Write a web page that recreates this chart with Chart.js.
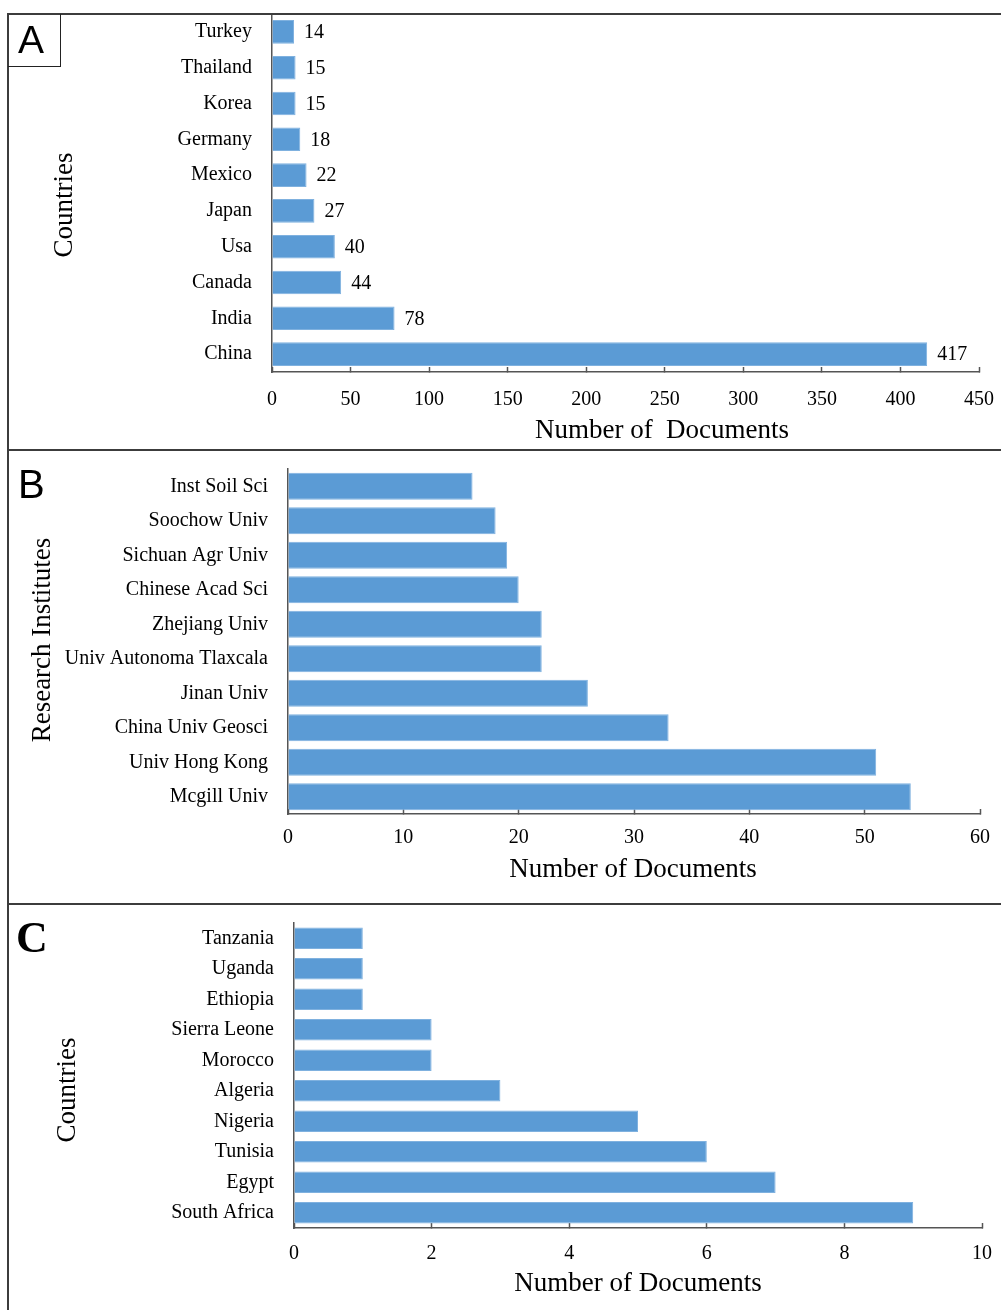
<!DOCTYPE html>
<html>
<head>
<meta charset="utf-8">
<script src="https://cdn.jsdelivr.net/npm/chart.js@4.4.1/dist/chart.umd.min.js"></script>
<style>
  body { margin: 0; background: #fff; }
  #page { position: relative; width: 1001px; height: 1310px; overflow: hidden; background: #fff; }
  canvas { position: absolute; left: 0; }
  .line { position: absolute; background: #3c3c3c; z-index: 5; }
  .letter { position: absolute; z-index: 6; color: #000; line-height: 1; }
</style>
</head>
<body>
<div id="page">
  <canvas id="chartA" width="1001" height="436" style="top:14px"></canvas>
  <canvas id="chartB" width="1001" height="454" style="top:450px"></canvas>
  <canvas id="chartC" width="1001" height="406" style="top:904px"></canvas>

  <!-- frame -->
  <div class="line" style="left:7px; top:13px; width:994px; height:2px"></div>
  <div class="line" style="left:7px; top:13px; width:2px; height:1297px"></div>
  <div class="line" style="left:7px; top:449px; width:994px; height:2px"></div>
  <div class="line" style="left:7px; top:903px; width:994px; height:2px"></div>
  <div style="position:absolute; left:8px; top:14px; width:52px; height:52px; border-right:1px solid #222; border-bottom:1px solid #222; z-index:5"></div>

  <div class="letter" style="left:18px; top:18px; font:39px 'Liberation Sans', Arial, sans-serif">A</div>
  <div class="letter" style="left:18px; top:462px; font:40px 'Liberation Sans', Arial, sans-serif">B</div>
  <div class="letter" style="left:16px; top:912px; font:bold 44px 'Liberation Serif', 'Times New Roman', serif">C</div>
</div>

<script>
//Panel A data
const countriesA = ['Turkey', 'Thailand', 'Korea', 'Germany', 'Mexico', 'Japan', 'Usa', 'Canada', 'India', 'China'];
const docsA = [14, 15, 15, 18, 22, 27, 40, 44, 78, 417];

//Panel B data
const institutesB = ['Inst Soil Sci', 'Soochow Univ', 'Sichuan Agr Univ', 'Chinese Acad Sci', 'Zhejiang Univ',
    'Univ Autonoma Tlaxcala', 'Jinan Univ', 'China Univ Geosci', 'Univ Hong Kong', 'Mcgill Univ'];
const docsB = [16, 18, 19, 20, 22, 22, 26, 33, 51, 54];

//Panel C data
const countriesC = ['Tanzania', 'Uganda', 'Ethiopia', 'Sierra Leone', 'Morocco', 'Algeria', 'Nigeria', 'Tunisia', 'Egypt', 'South Africa'];
const docsC = [1, 1, 1, 2, 2, 3, 5, 6, 7, 9];

const SERIF = "'Liberation Serif', 'Times New Roman', serif";
const BAR_BLUE = '#5B9BD5';
const AXIS_GREY = '#555';

//Draws the axis titles at fixed spots
const axisTitles = {
    id: 'axisTitles',
    afterDraw(chart, args, opts) {
        const ctx = chart.ctx;
        ctx.save();
        ctx.fillStyle = '#000';
        ctx.font = '27px ' + SERIF;
        ctx.textAlign = 'center';
        ctx.textBaseline = 'middle';
        ctx.fillText(opts.xText, opts.xPos[0], opts.xPos[1]);
        ctx.translate(opts.yPos[0], opts.yPos[1]);
        ctx.rotate(-Math.PI / 2);
        ctx.fillText(opts.yText, 0, 0);
        ctx.restore();
    }
};

//Value labels at the end of each bar
const valueLabels = {
    id: 'valueLabels',
    afterDatasetsDraw(chart, args, opts) {
        if (!opts.display) return;
        const ctx = chart.ctx;
        const meta = chart.getDatasetMeta(0);
        ctx.save();
        ctx.fillStyle = '#000';
        ctx.font = '20px ' + SERIF;
        ctx.textAlign = 'left';
        ctx.textBaseline = 'middle';
        meta.data.forEach((bar, i) => {
            ctx.fillText(chart.data.datasets[0].data[i], bar.x + 10, bar.y + 1);
        });
        ctx.restore();
    }
};

function makeChart(id, labels, values, s) {
    const ctx = document.getElementById(id).getContext('2d');
    return new Chart(ctx, {
        type: 'bar',
        data: {
            labels: labels,
            datasets: [{
                data: values,
                backgroundColor: BAR_BLUE,
                borderColor: '#7FB1DF',
                borderWidth: 1,
                barPercentage: s.barPct,
                categoryPercentage: 1
            }]
        },
        plugins: [axisTitles, valueLabels],
        options: {
            indexAxis: 'y',
            responsive: false,
            animation: false,
            layout: { padding: { left: 0, top: s.top, right: s.right, bottom: 0 } },
            plugins: {
                legend: { display: false },
                tooltip: { enabled: false },
                axisTitles: s.titles,
                valueLabels: { display: s.values }
            },
            scales: {
                x: {
                    min: 0,
                    max: s.max,
                    ticks: {
                        stepSize: s.step,
                        padding: s.xPad,
                        color: '#000',
                        font: { family: SERIF, size: 20 }
                    },
                    grid: {
                        display: true,
                        drawOnChartArea: false,
                        drawTicks: true,
                        tickLength: -5,
                        tickColor: AXIS_GREY,
                        tickWidth: 1.5
                    },
                    border: { display: true, color: AXIS_GREY, width: 1.5 },
                    afterFit(scale) {
                        scale.height = s.xHeight;
                        scale.paddingLeft = 0;
                        scale.paddingRight = 0;
                    }
                },
                y: {
                    ticks: {
                        padding: 20,
                        color: '#000',
                        font: { family: SERIF, size: 20 }
                    },
                    grid: { display: false, drawTicks: false },
                    border: { display: true, color: AXIS_GREY, width: 1.5 },
                    afterFit(scale) {
                        scale.width = s.axisX;
                        scale.paddingTop = 0;
                        scale.paddingBottom = 0;
                    }
                }
            }
        }
    });
}

makeChart('chartA', countriesA, docsA, {
    barPct: 0.66, top: 0, right: 22, xHeight: 78, axisX: 272, max: 450, step: 50, xPad: 21, values: true,
    titles: { xText: 'Number of  Documents', xPos: [662, 417], yText: 'Countries', yPos: [65, 191] }
});

makeChart('chartB', institutesB, docsB, {
    barPct: 0.78, top: 19, right: 21, xHeight: 90, axisX: 288, max: 60, step: 10, xPad: 17, values: false,
    titles: { xText: 'Number of Documents', xPos: [633, 420], yText: 'Research Institutes', yPos: [43, 190] }
});

makeChart('chartC', countriesC, docsC, {
    barPct: 0.7, top: 19, right: 19, xHeight: 82, axisX: 294, max: 10, step: 2, xPad: 19, values: false,
    titles: { xText: 'Number of Documents', xPos: [638, 380], yText: 'Countries', yPos: [68, 186] }
});
</script>
</body>
</html>
